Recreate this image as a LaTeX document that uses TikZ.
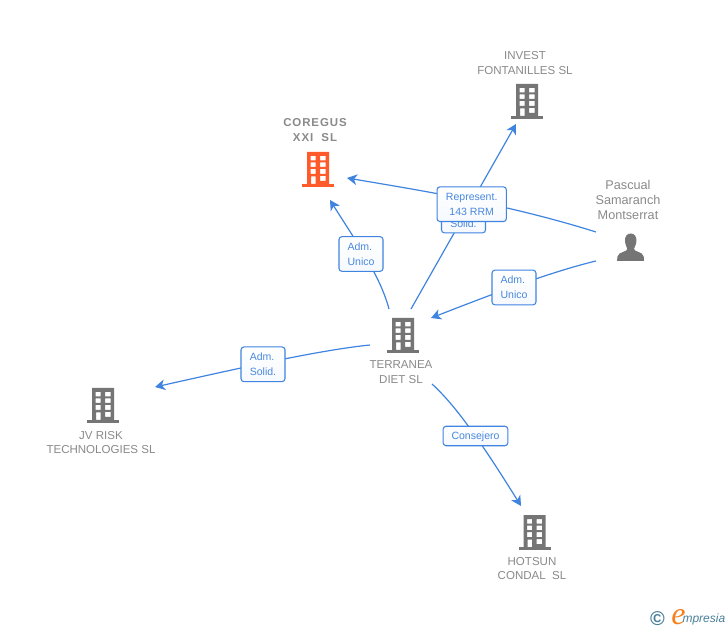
\documentclass[tikz,border=0pt]{standalone}
\usepackage{fontspec}
\setmainfont{Liberation Sans}
\newfontfamily\serifit{Liberation Serif}
\usetikzlibrary{arrows.meta}
\definecolor{linkblue}{HTML}{3F84E0}
\definecolor{boxtext}{HTML}{4A88DC}
\definecolor{labelgray}{HTML}{8A8A8A}
\definecolor{icongray}{HTML}{757575}
\definecolor{iconorange}{HTML}{FF5A2B}
\definecolor{brandteal}{HTML}{4A8099}
\definecolor{brandorange}{HTML}{F5821F}
\tikzset{
  link/.style={draw=linkblue,line width=0.9pt,-{Stealth[length=7.5pt,width=8pt,inset=2.2pt]}},
  relbox/.style={draw=linkblue,line width=0.8pt,rounded corners=2.2pt,top color=white,bottom color=white!95!linkblue,
    text=boxtext,font=\fontsize{7.9}{10.9}\selectfont,inner sep=0pt,anchor=center},
  entity/.style={text=labelgray,font=\fontsize{8.65}{11.2}\selectfont,align=center,inner sep=0pt},
  person/.style={text=labelgray,font=\fontsize{9.5}{11.2}\selectfont,align=center,inner sep=0pt},
  building/.pic={
    \fill[pic actions,even odd rule]
      (-11,0) rectangle (11,32)
      (-7.5,4) rectangle (-2.3,8.5) (2,4) rectangle (7.7,8.5)
      (-7.5,10.5) rectangle (-2.3,15) (2,10.5) rectangle (7.7,15)
      (-7.5,17) rectangle (-2.3,22) (2,17) rectangle (7.7,22)
      (-7,24.5) rectangle (-2.3,32) (2,24) rectangle (7.7,29);
    \fill[pic actions] (-16,32) rectangle (16,35);
  }
}
\begin{document}
\begin{tikzpicture}[x=0.75pt,y=-0.75pt]
\useasboundingbox[fill=white] (0,0) rectangle (728,630);

% icons
\pic[fill=iconorange] at (318,152) {building};
\pic[fill=icongray] at (527,84) {building};
\pic[fill=icongray] at (403,318) {building};
\pic[fill=icongray] at (103,388) {building};
\pic[fill=icongray] at (534.5,515) {building};
\fill[icongray] (630.7,233.5) .. controls (626.5,233.5) and (624.8,237) .. (625,241)
  .. controls (625.2,245) and (627,247) .. (627.3,249)
  .. controls (627.3,252) and (618.5,251.5) .. (617.5,256.5) -- (617,261) -- (644,261) -- (643.7,256.5)
  .. controls (642.8,251.5) and (634,252) .. (634,249)
  .. controls (634.4,247) and (636.2,245) .. (636.4,241)
  .. controls (636.6,237) and (634.9,233.5) .. (630.7,233.5) -- cycle;

% labels
\node[entity,font=\fontsize{8.6}{11.2}\selectfont\bfseries\addfontfeature{LetterSpace=8}] (coregus) at (315,130.5) {COREGUS\\XXI\ \ SL};
\node[entity] (invest) at (525,63) {INVEST\\FONTANILLES SL};
\node[entity] (terranea) at (401,372.5) {TERRANEA\\DIET SL};
\node[entity] (jvrisk) at (101,442.5) {JV RISK\\TECHNOLOGIES SL};
\node[entity] (hotsun) at (532,568.5) {HOTSUN\\CONDAL\ \ SL};
\node[person] (pascual) at (628,200) {Pascual\\Samaranch\\Montserrat};

% connector ends
\coordinate (pascualA) at (596,232);
\coordinate (pascualB) at (596,261);
\coordinate (coregusA) at (347,178);
\coordinate (coregusB) at (330,200);
\coordinate (investIn) at (516,124);
\coordinate (terrOutA) at (389,309);
\coordinate (terrOutB) at (411,309);
\coordinate (terrOutC) at (370,345);
\coordinate (terrOutD) at (432,384);
\coordinate (terrIn) at (431,318);
\coordinate (jvIn) at (155,387);
\coordinate (hotsunIn) at (521,506);

% connectors
\draw[link] (pascualA) .. controls (510,205) and (430,192) .. (coregusA);
\draw[link] (terrOutB) -- (investIn);
\draw[link] (terrOutA) .. controls (380,275) and (355,240) .. (coregusB);
\draw[link] (pascualB) .. controls (550,272) and (490,295) .. (terrIn);
\draw[link] (terrOutC) .. controls (320,350) and (240,368) .. (jvIn);
\draw[link] (terrOutD) .. controls (455,405) and (480,440) .. (hotsunIn);

% relation boxes
\node[relbox,minimum width=33pt,minimum height=26pt,align=center] (boxsolid) at (463.5,215.5) {\strut\\Solid.};
\node[relbox,minimum width=52pt,minimum height=26pt,align=center] (boxrep) at (471.7,204.2) {Represent.\\143 RRM};
\node[relbox,minimum width=33pt,minimum height=26pt,align=left] (boxunicoA) at (361,254) {Adm.\\Unico};
\node[relbox,minimum width=33pt,minimum height=26pt,align=left] (boxunicoB) at (514,287.5) {Adm.\\Unico};
\node[relbox,minimum width=33pt,minimum height=26pt,align=left] (boxsolidB) at (263,364.3) {Adm.\\Solid.};
\node[relbox,minimum width=48.5pt,minimum height=14.6pt,text depth=0pt] (boxcons) at (475.5,436) {Consejero};

% brand
\node[text=brandteal,inner sep=0pt,font=\fontsize{15}{15}\selectfont\bfseries] (copy) at (657.5,619) {©};
\node[text=brandorange,inner sep=0pt,font=\fontsize{24}{24}\selectfont\serifit\itshape] (brande) at (678.5,617.5) {e};
\node[text=brandteal,inner sep=0pt,anchor=base east,font=\fontsize{9}{10}\selectfont\itshape] (brand) at (725.5,622.5) {mpresia};
\end{tikzpicture}
\end{document}
